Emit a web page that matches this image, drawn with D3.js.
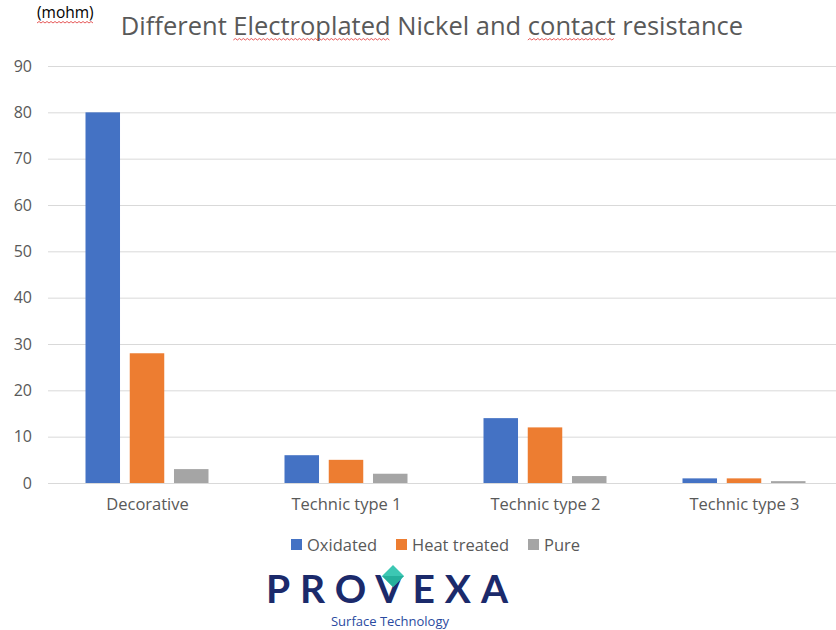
<!DOCTYPE html>
<html>
<head>
<meta charset="utf-8">
<script src="https://cdn.jsdelivr.net/npm/d3@7"></script>
<style>
  body { margin: 0; background: #fff; }
  svg { font-family: "Open Sans", sans-serif; }
</style>
</head>
<body>
<svg width="836" height="630"></svg>
<script>
// data
var categories = ["Decorative", "Technic type 1", "Technic type 2", "Technic type 3"];
var seriesNames = ["Oxidated", "Heat treated", "Pure"];
var oxidated = [80, 6, 14, 1];
var heatTreated = [28, 5, 12, 1];
var pure = [3, 2, 1.5, 0.4];
var yTicks = [0, 10, 20, 30, 40, 50, 60, 70, 80, 90];
var colors = ["#4472c4", "#ed7d31", "#a5a5a5"];

var svg = d3.select("svg"),
    margin = {top: 66, right: -8, bottom: 147, left: 48},
    width = +svg.attr("width") - margin.left - margin.right,
    height = +svg.attr("height") - margin.top - margin.bottom;

var table = categories.map(function(c, i) {
  return {cat: c, values: [oxidated[i], heatTreated[i], pure[i]]};
});

var x = d3.scaleBand().domain(categories).range([0, width]).padding(0),
    x1 = d3.scaleBand().domain(seriesNames).range([0, 123]).paddingInner(0.22),
    y = d3.scaleLinear().domain([0, 90]).range([height, 0]);

var g = svg.append("g")
    .attr("transform", "translate(" + margin.left + "," + margin.top + ")");

// gridlines
g.append("g")
    .attr("class", "grid")
    .call(d3.axisLeft(y).tickValues(yTicks).tickSize(-width).tickFormat(""))
    .call(function(s) { s.select(".domain").remove(); })
    .selectAll("line").attr("stroke", "#d9d9d9").attr("stroke-width", 1);

// y labels
g.append("g")
    .call(d3.axisLeft(y).tickValues(yTicks).tickSize(0).tickPadding(16))
    .call(function(s) { s.select(".domain").remove(); })
    .selectAll("text")
    .attr("fill", "#595959")
    .style("font-size", "16px")
    .style("font-family", "'Open Sans', sans-serif");

// bars
var groups = g.selectAll(".cat")
    .data(table)
  .enter().append("g")
    .attr("class", "cat")
    .attr("transform", function(d) { return "translate(" + (x(d.cat) + x.bandwidth() / 2 - 62) + ",0)"; });

groups.selectAll("rect")
    .data(function(d) { return d.values.map(function(v, i) { return {name: seriesNames[i], value: v, i: i}; }); })
  .enter().append("rect")
    .attr("x", function(d) { return x1(d.name); })
    .attr("width", x1.bandwidth())
    .attr("y", function(d) { return y(d.value); })
    .attr("height", function(d) { return height - y(d.value); })
    .attr("fill", function(d) { return colors[d.i]; });

// baseline
g.append("line")
    .attr("x1", 0).attr("x2", width)
    .attr("y1", height + 0.5).attr("y2", height + 0.5)
    .attr("stroke", "#d9d9d9");

// category labels
g.append("g")
    .attr("transform", "translate(0," + height + ")")
    .call(d3.axisBottom(x).tickSize(0).tickPadding(15))
    .call(function(s) { s.select(".domain").remove(); })
    .selectAll("text")
    .attr("fill", "#595959")
    .style("font-size", "16.5px")
    .style("font-family", "'Open Sans', sans-serif");

// title
var title = svg.append("text")
    .attr("x", 432).attr("y", 35)
    .attr("text-anchor", "middle")
    .attr("fill", "#595959")
    .style("font-size", "25.5px")
    .text("Different Electroplated Nickel and contact resistance");

var unit = svg.append("text")
    .attr("x", 37).attr("y", 18)
    .attr("fill", "#000")
    .style("font-size", "15.5px")
    .text("(mohm)");

// spell-check squiggles
function squiggle(x0, x1, yy) {
  var p = d3.path(), step = 2, up = true;
  p.moveTo(x0, yy);
  for (var xx = x0 + step; xx <= x1; xx += step) {
    p.lineTo(xx, up ? yy - 1.5 : yy);
    up = !up;
  }
  svg.append("path").attr("d", p.toString())
    .attr("fill", "none").attr("stroke", "#e03030").attr("stroke-width", 0.8);
}
var tNode = title.node(), full = title.text();
function under(word) {
  var i = full.indexOf(word);
  var a = tNode.getStartPositionOfChar(i).x,
      b = tNode.getEndPositionOfChar(i + word.length - 1).x;
  squiggle(a, b, 40);
}
under("Electroplated");
under("contact");
var uLen = unit.node().getComputedTextLength();
squiggle(37, 37 + uLen, 23);

// legend
var legendX = [291, 396, 528];
var legend = svg.append("g").attr("transform", "translate(0,545)");
seriesNames.forEach(function(n, i) {
  legend.append("rect")
      .attr("x", legendX[i]).attr("y", -6)
      .attr("width", 11).attr("height", 11)
      .attr("fill", colors[i]);
  legend.append("text")
      .attr("x", legendX[i] + 16).attr("y", 6)
      .attr("fill", "#595959")
      .style("font-size", "16.5px")
      .text(n);
});

// logo
var logo = svg.append("g");
logo.append("text")
    .attr("x", 392).attr("y", 603)
    .attr("text-anchor", "middle")
    .attr("fill", "#1b2a6b")
    .style("font-size", "39px")
    .style("font-weight", "bold")
    .style("font-family", "Lato, sans-serif")
    .style("letter-spacing", "10px")
    .text("PROVEXA");
logo.append("path")
    .attr("d", "M393,565 L404,576 L393,587 L382,576 Z")
    .attr("fill", "#3cc7b3");
logo.append("path")
    .attr("d", "M382,576 L404,576 L393,587 Z")
    .attr("fill", "#25b09c");
logo.append("text")
    .attr("x", 390).attr("y", 626)
    .attr("text-anchor", "middle")
    .attr("fill", "#2a4aa0")
    .style("font-size", "13px")
    .text("Surface Technology");
</script>
</body>
</html>
